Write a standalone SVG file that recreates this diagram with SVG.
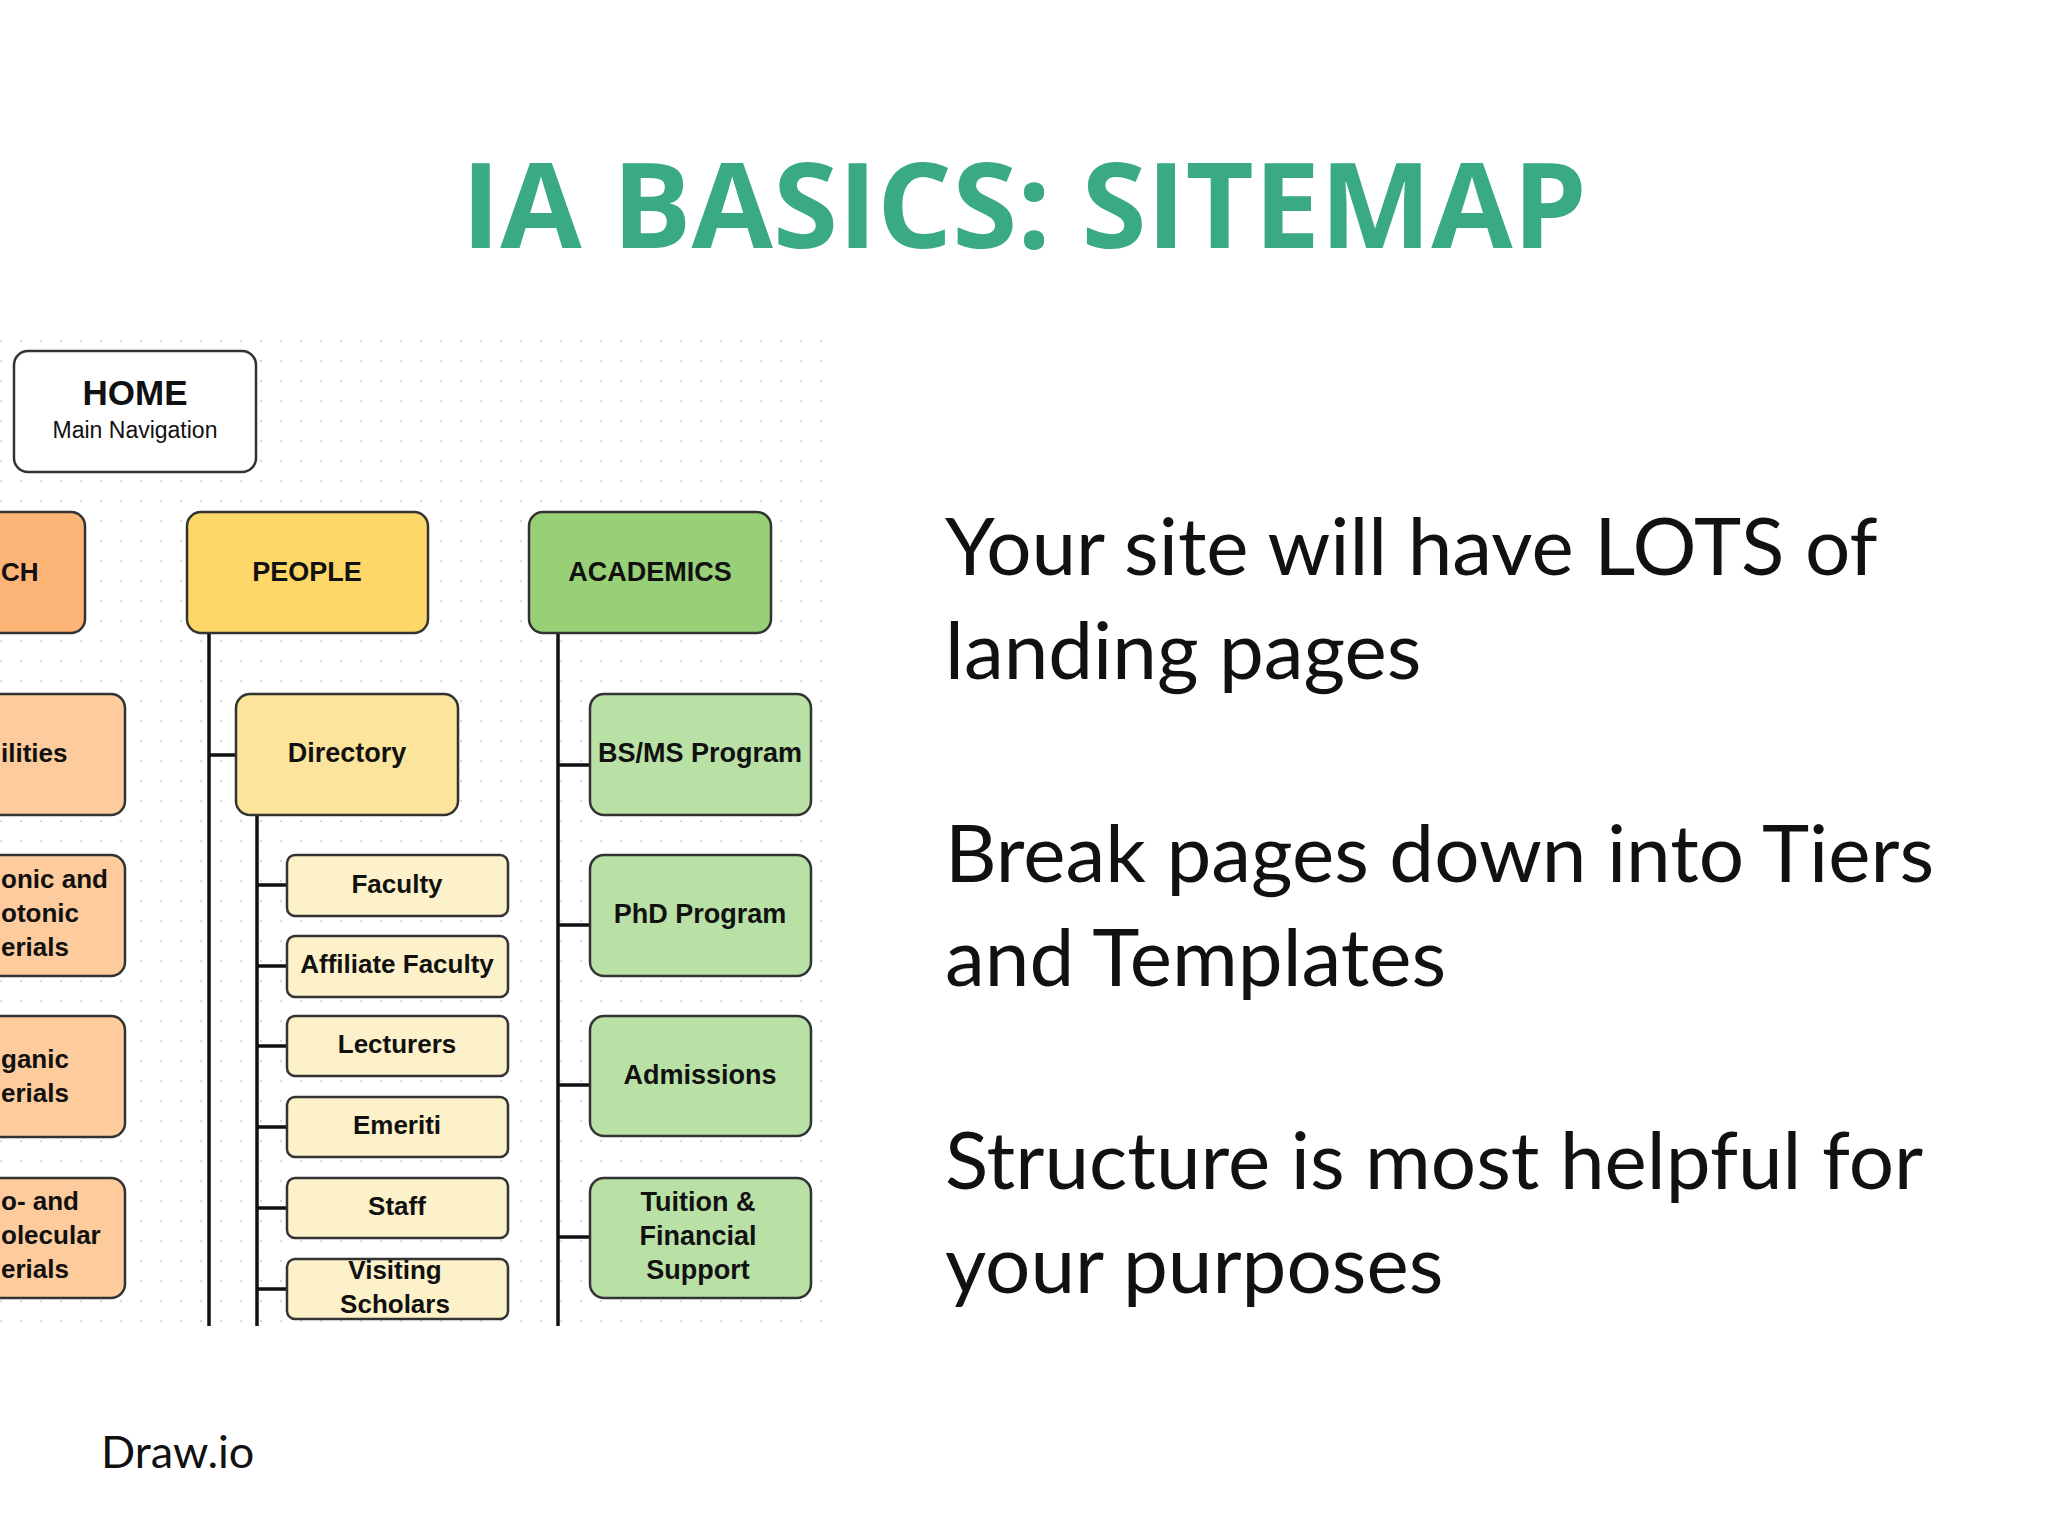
<svg xmlns="http://www.w3.org/2000/svg" width="2048" height="1536" viewBox="0 0 2048 1536">
<defs>
<pattern id="dots" width="20" height="20" patternUnits="userSpaceOnUse"><circle cx="1" cy="1" r="1.2" fill="#d8d8d8"/></pattern>
<style>
.b{stroke:#333;stroke-width:2.5}
.t{font-family:"Liberation Sans",Arial,sans-serif;font-weight:bold;fill:#111;text-anchor:middle}
.t.s{text-anchor:start}
.ln{stroke:#111;stroke-width:3.5;fill:none}
.r{font-family:Lato,"Open Sans",sans-serif;fill:#111;font-size:80px}
</style>
</defs>
<rect width="2048" height="1536" fill="#fff"/>
<rect x="0" y="327" width="836" height="999" fill="url(#dots)"/>
<text x="1024" y="248" font-family="Open Sans,Lato,sans-serif" font-weight="bold" font-size="118" fill="#3aaa85" text-anchor="middle">IA BASICS: SITEMAP</text>
<g id="home"><rect x="14" y="351" width="242" height="121" rx="14" fill="#fff" class="b"/><text x="135" y="405" class="t" font-size="35">HOME</text><text x="135" y="438" font-family="Liberation Sans,Arial,sans-serif" font-size="23" text-anchor="middle" fill="#111">Main Navigation</text></g>
<g id="connectors">
<path class="ln" d="M209 633V1326M209 755H236M257 815V1326M257 885H287M257 966H287M257 1046H287M257 1127H287M257 1208H287M257 1289H287M558 633V1326M558 765H590M558 925H590M558 1085H590M558 1237H590"/>
</g>
<g id="research"><rect x="-20" y="512" width="105" height="121" rx="14" fill="#fdb477" class="b"/><text x="1" y="581" class="t s" font-size="26">CH</text></g>
<g id="r1"><rect x="-20" y="694" width="145" height="121" rx="14" fill="#fdcb9c" class="b"/><text x="1" y="762" class="t s" font-size="26">ilities</text></g>
<g id="r2"><rect x="-20" y="855" width="145" height="121" rx="14" fill="#fdcb9c" class="b"/><text class="t s" font-size="26"><tspan x="1" y="888">onic and</tspan><tspan x="1" y="922">otonic</tspan><tspan x="1" y="956">erials</tspan></text></g>
<g id="r3"><rect x="-20" y="1016" width="145" height="121" rx="14" fill="#fdcb9c" class="b"/><text class="t s" font-size="26"><tspan x="1" y="1068">ganic</tspan><tspan x="1" y="1102">erials</tspan></text></g>
<g id="r4"><rect x="-20" y="1178" width="145" height="120" rx="14" fill="#fdcb9c" class="b"/><text class="t s" font-size="26"><tspan x="1" y="1210">o- and</tspan><tspan x="1" y="1244">olecular</tspan><tspan x="1" y="1278">erials</tspan></text></g>
<g id="people"><rect x="187" y="512" width="241" height="121" rx="14" fill="#fdd868" class="b"/><text x="307" y="581" class="t" font-size="27">PEOPLE</text></g>
<g id="directory"><rect x="236" y="694" width="222" height="121" rx="14" fill="#fde49c" class="b"/><text x="347" y="762" class="t" font-size="27">Directory</text></g>
<g id="faculty"><rect x="287" y="855" width="221" height="61" rx="8" fill="#fdf1c9" class="b"/><text x="397" y="893" class="t" font-size="26">Faculty</text></g>
<g id="affiliate"><rect x="287" y="936" width="221" height="61" rx="8" fill="#fdf1c9" class="b"/><text x="397" y="973" class="t" font-size="26">Affiliate Faculty</text></g>
<g id="lecturers"><rect x="287" y="1016" width="221" height="60" rx="8" fill="#fdf1c9" class="b"/><text x="397" y="1053" class="t" font-size="26">Lecturers</text></g>
<g id="emeriti"><rect x="287" y="1097" width="221" height="60" rx="8" fill="#fdf1c9" class="b"/><text x="397" y="1134" class="t" font-size="26">Emeriti</text></g>
<g id="staff"><rect x="287" y="1178" width="221" height="60" rx="8" fill="#fdf1c9" class="b"/><text x="397" y="1215" class="t" font-size="26">Staff</text></g>
<g id="visiting"><rect x="287" y="1259" width="221" height="60" rx="8" fill="#fdf1c9" class="b"/><text class="t" font-size="26"><tspan x="395" y="1279">Visiting</tspan><tspan x="395" y="1313">Scholars</tspan></text></g>
<g id="academics"><rect x="529" y="512" width="242" height="121" rx="14" fill="#97d077" class="b"/><text x="650" y="581" class="t" font-size="27">ACADEMICS</text></g>
<g id="bsms"><rect x="590" y="694" width="221" height="121" rx="14" fill="#b9e0a5" class="b"/><text x="700" y="762" class="t" font-size="27">BS/MS Program</text></g>
<g id="phd"><rect x="590" y="855" width="221" height="121" rx="14" fill="#b9e0a5" class="b"/><text x="700" y="923" class="t" font-size="27">PhD Program</text></g>
<g id="admissions"><rect x="590" y="1016" width="221" height="120" rx="14" fill="#b9e0a5" class="b"/><text x="700" y="1084" class="t" font-size="27">Admissions</text></g>
<g id="tuition"><rect x="590" y="1178" width="221" height="120" rx="14" fill="#b9e0a5" class="b"/><text class="t" font-size="27"><tspan x="698" y="1211">Tuition &amp;</tspan><tspan x="698" y="1245">Financial</tspan><tspan x="698" y="1279">Support</tspan></text></g>
<text class="r" x="945" y="575">Your site will have LOTS of</text>
<text class="r" x="945" y="679">landing pages</text>
<text class="r" x="945" y="882">Break pages down into Tiers</text>
<text class="r" x="945" y="986">and Templates</text>
<text class="r" x="945" y="1189">Structure is most helpful for</text>
<text class="r" x="945" y="1293">your purposes</text>
<text x="101" y="1468" font-family="Lato,Open Sans,sans-serif" font-size="45" fill="#111">Draw.io</text>
</svg>
